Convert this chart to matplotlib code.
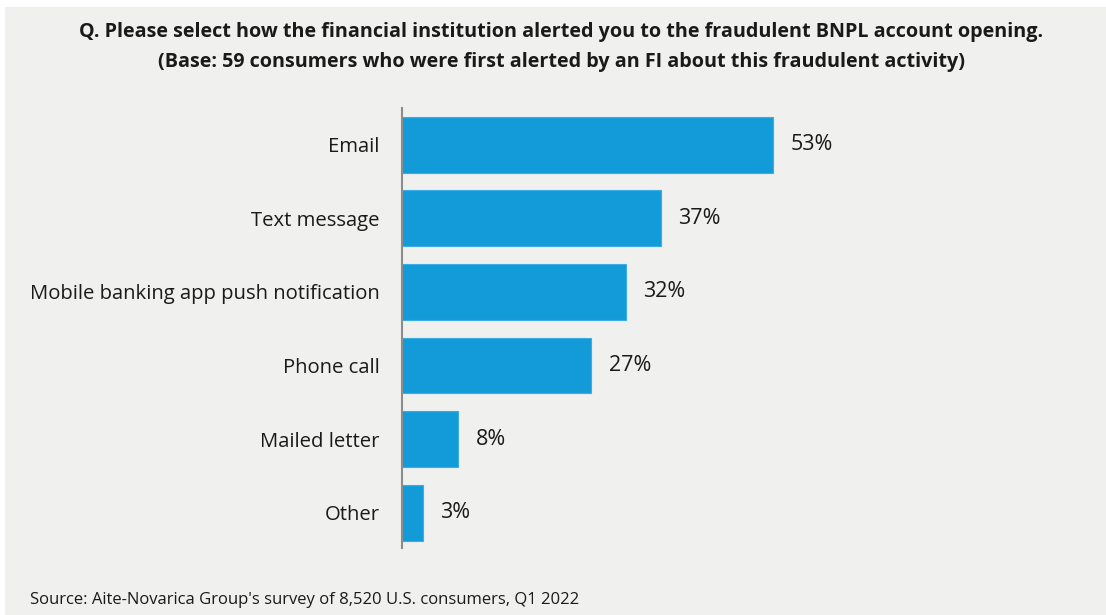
import matplotlib.pyplot as plt
from matplotlib.patches import Rectangle

categories = ["Email", "Text message", "Mobile banking app push notification",
              "Phone call", "Mailed letter", "Other"]
shares = [53, 37, 32, 27, 8, 3]

title = ("Q. Please select how the financial institution alerted you to the fraudulent BNPL account opening.\n"
         "(Base: 59 consumers who were first alerted by an FI about this fraudulent activity)")
source = "Source: Aite-Novarica Group's survey of 8,520 U.S. consumers, Q1 2022"

plt.rcParams["font.family"] = ["Open Sans", "DejaVu Sans"]

W, H = 1106, 615
fig = plt.figure(figsize=(W / 100, H / 100), dpi=100, facecolor="white")
fig.patches.append(Rectangle((5 / W, 0), 1 - 5 / W, 1 - 7 / H, transform=fig.transFigure,
                             facecolor="#f0f0ef", edgecolor="none", zorder=-10))

ax = fig.add_axes([402 / W, 67 / H, 420 / W, 440 / H])
ax.set_facecolor("none")
ypos = list(range(len(categories)))
ax.barh(ypos, shares, height=0.76, color="#139bd9", edgecolor="#3aaee3", linewidth=0.8)
for y, v in zip(ypos, shares):
    ax.text(v + 2.5, y, f"{v}%", va="center", ha="left", fontsize=15.5, color="#1a1a1a")

ax.set_xlim(0, 60)
ax.set_ylim(5.48, -0.5)
ax.set_yticks(ypos)
ax.set_yticklabels(categories, fontsize=14.6, color="#1a1a1a")
ax.tick_params(axis="y", length=0, pad=16)
ax.set_xticks([])
for s in ["top", "right", "bottom"]:
    ax.spines[s].set_visible(False)
ax.spines["left"].set_color("#8c8c8c")
ax.spines["left"].set_linewidth(1.5)

fig.text(561 / W, 1 - 47 / H, title, ha="center", va="center", fontsize=14.2,
         fontweight="bold", color="#1a1a1a", linespacing=1.6)
fig.text(30 / W, 1 - 600 / H, source, ha="left", va="center", fontsize=12, color="#1a1a1a")

fig.savefig("out.png", dpi=100, facecolor=fig.get_facecolor())
